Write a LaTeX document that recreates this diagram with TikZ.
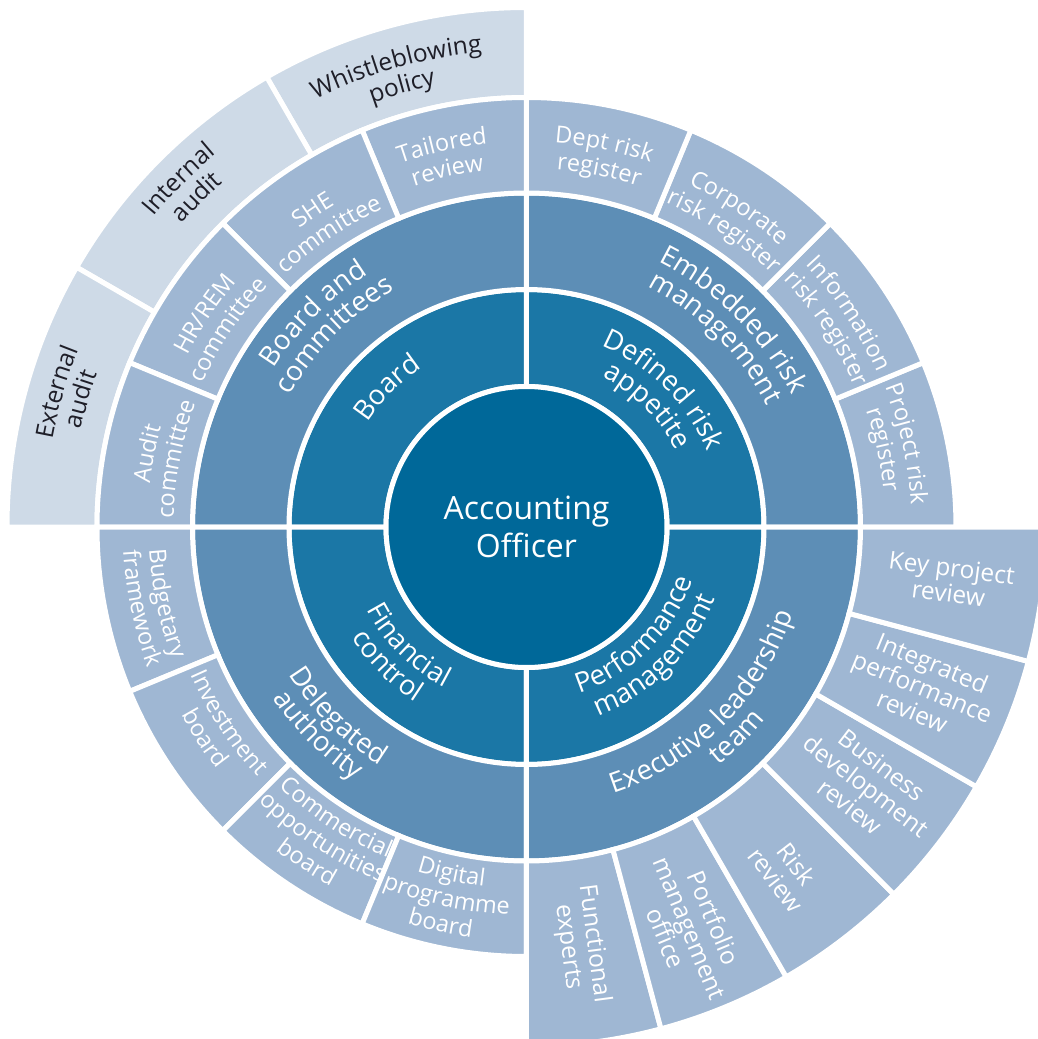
\documentclass[tikz,border=0pt]{standalone}
\usepackage{fontspec}
\setmainfont{Open Sans}
\usetikzlibrary{decorations.text}
\definecolor{core}{RGB}{0,104,153}
\definecolor{ringb}{RGB}{27,119,166}
\definecolor{ringc}{RGB}{93,142,182}
\definecolor{ringd}{RGB}{159,183,211}
\definecolor{ringe}{RGB}{206,218,231}
\definecolor{inkdark}{RGB}{30,30,40}

\begin{document}
\begin{tikzpicture}[x=1pt,y=1pt,
 sec/.style={draw=white,line width=5pt},
 lblA/.style={text=white,align=center,inner sep=0pt,font=\fontsize{32}{38}\selectfont},
 lblD/.style={text=white,align=center,inner sep=0pt,font=\fontsize{24.5}{26}\selectfont},
 txtB/.style={decorate,decoration={text along path,text align=center,text color=white,text={|\fontsize{27.5}{27}\selectfont|#1}}},
 txtD/.style={decorate,decoration={text along path,text align=center,text color=white,text={|\fontsize{23.5}{26}\selectfont|#1}}},
 txtE/.style={decorate,decoration={text along path,text align=center,text color=inkdark,text={|\fontsize{24.5}{26}\selectfont|#1}}}]
 \useasboundingbox (-526.5,-512) rectangle (511.5,527); %枠
 \clip (-526.5,-512) rectangle (511.5,527);
 \foreach \a/\b/\ri/\ro/\c in {0/90/140.5/237.5/ringb,90/180/140.5/237.5/ringb,180/270/140.5/237.5/ringb,270/360/140.5/237.5/ringb,
   0/90/237.5/334/ringc,90/180/237.5/334/ringc,180/270/237.5/334/ringc,270/360/237.5/334/ringc,
   90/120/429.5/519.5/ringe,120/150/429.5/519.5/ringe,150/180/429.5/519.5/ringe}
  \filldraw[sec,fill=\c] (\a:\ri) arc[start angle=\a,end angle=\b,radius=\ri] -- (\b:\ro) arc[start angle=\b,end angle=\a,radius=\ro] -- cycle; %環
 \foreach \a in {0,22.5,...,247.5}
  \filldraw[sec,fill=ringd] (\a:334) arc[start angle=\a,end angle=\a+22.5,radius=334] -- (\a+22.5:429.5) arc[start angle=\a+22.5,end angle=\a,radius=429.5] -- cycle; %第4環
 \foreach \a in {270,285,...,345}
  \filldraw[sec,fill=ringd] (\a:334) arc[start angle=\a,end angle=\a+15,radius=334] -- (\a+15:519.5) arc[start angle=\a+15,end angle=\a,radius=519.5] -- cycle; %右下
 \filldraw[sec,fill=core] (0,0) circle[radius=140.5]; %中心
 \node[lblA] (officer) at (0,0) {Accounting\\Officer};
 % 第2環
 \path[txtB={Board}] (135+40:190) arc[start angle=135+40,end angle=135-40,radius=190];
 \path[txtB={Defined risk}] (45+40:196) arc[start angle=45+40,end angle=45-40,radius=196];
 \path[txtB={appetite}] (45+40:168) arc[start angle=45+40,end angle=45-40,radius=168];
 \path[txtB={Financial}] (225-40:180) arc[start angle=225-40,end angle=225+40,radius=180];
 \path[txtB={control}] (225-40:207) arc[start angle=225-40,end angle=225+40,radius=207];
 \path[txtB={Performance}] (315-40:174) arc[start angle=315-40,end angle=315+40,radius=174];
 \path[txtB={management}] (315-40:202) arc[start angle=315-40,end angle=315+40,radius=202];
 % 第3環
 \path[txtB={Board and}] (135+40:298) arc[start angle=135+40,end angle=135-40,radius=298];
 \path[txtB={committees}] (135+40:271) arc[start angle=135+40,end angle=135-40,radius=271];
 \path[txtB={Embedded risk}] (45+40:296) arc[start angle=45+40,end angle=45-40,radius=296];
 \path[txtB={management}] (45+40:269) arc[start angle=45+40,end angle=45-40,radius=269];
 \path[txtB={Delegated}] (225-40:280) arc[start angle=225-40,end angle=225+40,radius=280];
 \path[txtB={authority}] (225-40:306) arc[start angle=225-40,end angle=225+40,radius=306];
 \path[txtB={Executive leadership}] (315-40:280) arc[start angle=315-40,end angle=315+40,radius=280];
 \path[txtB={team}] (315-40:306) arc[start angle=315-40,end angle=315+40,radius=306];
 % 第4環 左上
 \path[txtD={Audit}] (169+40:379) arc[start angle=169+40,end angle=169-40,radius=379];
 \path[txtD={committee}] (169+40:353) arc[start angle=169+40,end angle=169-40,radius=353];
 \path[txtD={HR/REM}] (146.5+40:380) arc[start angle=146.5+40,end angle=146.5-40,radius=380];
 \path[txtD={committee}] (146.5+40:354) arc[start angle=146.5+40,end angle=146.5-40,radius=354];
 \path[txtD={SHE}] (124+40:375) arc[start angle=124+40,end angle=124-40,radius=375];
 \path[txtD={committee}] (124+40:349) arc[start angle=124+40,end angle=124-40,radius=349];
 \path[txtD={Tailored}] (102.5+40:385) arc[start angle=102.5+40,end angle=102.5-40,radius=385];
 \path[txtD={review}] (102.5+40:359) arc[start angle=102.5+40,end angle=102.5-40,radius=359];
 % 第4環 右上
 \path[txtD={Dept risk}] (78.5+40:385) arc[start angle=78.5+40,end angle=78.5-40,radius=385];
 \path[txtD={register}] (78.5+40:359) arc[start angle=78.5+40,end angle=78.5-40,radius=359];
 \path[txtD={Corporate}] (56.3+40:379) arc[start angle=56.3+40,end angle=56.3-40,radius=379];
 \path[txtD={risk register}] (56.3+40:353) arc[start angle=56.3+40,end angle=56.3-40,radius=353];
 \path[txtD={Information}] (33.5+40:383) arc[start angle=33.5+40,end angle=33.5-40,radius=383];
 \path[txtD={risk register}] (33.5+40:357) arc[start angle=33.5+40,end angle=33.5-40,radius=357];
 \path[txtD={Project risk}] (12.3+40:385) arc[start angle=12.3+40,end angle=12.3-40,radius=385];
 \path[txtD={register}] (12.3+40:359) arc[start angle=12.3+40,end angle=12.3-40,radius=359];
 % 第4環 左下
 \path[txtD={Budgetary}] (191.9-40:378) arc[start angle=191.9-40,end angle=191.9+40,radius=378];
 \path[txtD={framework}] (191.9-40:404) arc[start angle=191.9-40,end angle=191.9+40,radius=404];
 \path[txtD={Investment}] (213.3-40:367) arc[start angle=213.3-40,end angle=213.3+40,radius=367];
 \path[txtD={board}] (213.3-40:393) arc[start angle=213.3-40,end angle=213.3+40,radius=393];
 \path[txtD={Commercial}] (236.8-40:359) arc[start angle=236.8-40,end angle=236.8+40,radius=359];
 \path[txtD={opportunities}] (236.8-40:384) arc[start angle=236.8-40,end angle=236.8+40,radius=384];
 \path[txtD={board}] (236.8-40:409) arc[start angle=236.8-40,end angle=236.8+40,radius=409];
 \path[txtD={Digital}] (257.8-40:362) arc[start angle=257.8-40,end angle=257.8+40,radius=362];
 \path[txtD={programme}] (257.8-40:388) arc[start angle=257.8-40,end angle=257.8+40,radius=388];
 \path[txtD={board}] (257.8-40:414) arc[start angle=257.8-40,end angle=257.8+40,radius=414];
 % 右下
 \node[lblD,rotate=-7.5] (keyproj) at (-7.2:427) {Key project\\review};
 \node[lblD,rotate=-22.5] (integrated) at (-22:427) {Integrated\\performance\\review};
 \node[lblD,rotate=-37.5] (busdev) at (-37.3:427) {Business\\development\\review};
 \node[lblD,rotate=-52.5] (riskrev) at (-53:432) {Risk\\review};
 \node[lblD,rotate=-67.5] (portfolio) at (-67.8:433) {Portfolio\\management\\office};
 \node[lblD,rotate=-82.5] (functional) at (-82.6:422) {Functional\\experts};
 % 外側
 \path[txtE={External}] (164+40:482) arc[start angle=164+40,end angle=164-40,radius=482];
 \path[txtE={audit}] (164+40:456) arc[start angle=164+40,end angle=164-40,radius=456];
 \path[txtE={Internal}] (135+40:485) arc[start angle=135+40,end angle=135-40,radius=485];
 \path[txtE={audit}] (135+40:459) arc[start angle=135+40,end angle=135-40,radius=459];
 \path[txtE={Whistleblowing}] (105.8+40:477) arc[start angle=105.8+40,end angle=105.8-40,radius=477];
 \path[txtE={policy}] (105.8+40:451) arc[start angle=105.8+40,end angle=105.8-40,radius=451];
\end{tikzpicture}
\end{document}
